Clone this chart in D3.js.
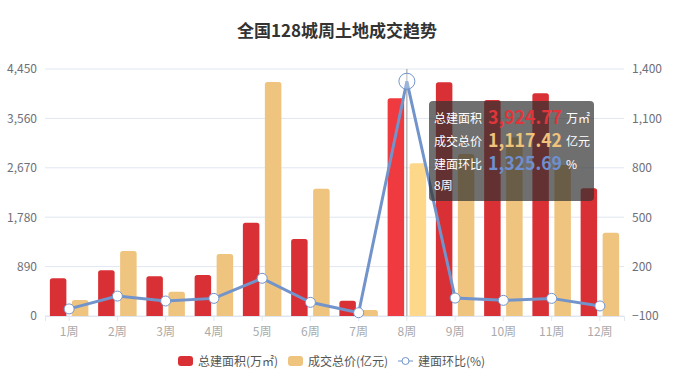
<!DOCTYPE html>
<html lang="zh">
<head>
<meta charset="UTF-8">
<title>全国128城周土地成交趋势</title>
<script src="https://cdn.jsdelivr.net/npm/d3@7/dist/d3.min.js"></script>
<style>
  body { margin: 0; background: #fff; }
  text { font-family: "Noto Sans CJK SC", "Noto Sans", sans-serif; }
</style>
</head>
<body>
<svg width="689" height="382"></svg>
<script>
// chart data
const weeks = ["1周","2周","3周","4周","5周","6周","7周","8周","9周","10周","11周","12周"];
const area = [679, 823, 715, 739, 1681, 1387, 276, 3924.77, 4211, 3892, 4012, 2300];   // 总建面积(万㎡)
const price = [288, 1171, 438, 1117, 4216, 2294, 108, 2750, 2920, 3220, 2720, 1501];   // 成交总价(亿元)
const ratio = [-57, 21, -9, 7, 129, -17, -80, 1325.69, 9, -5, 7, -39];                // 建面环比(%)
const leftTicks = [0, 890, 1780, 2670, 3560, 4450];
const rightTicks = [-100, 200, 500, 800, 1100, 1400];
const hoverIndex = 7;
const hoverPrice = 1117.42;

const svg = d3.select("svg");
const margin = { top: 69, right: 65, bottom: 66, left: 45 };
const width = 689 - margin.left - margin.right,
      height = 382 - margin.top - margin.bottom;

const red = "#d93035", redHi = "#ef3a40";
const yel = "#efc47e", yelHi = "#fdd88b";
const blue = "#7294cb";

const x = d3.scaleBand().domain(weeks).range([0, width]);
const yL = d3.scaleLinear().domain([0, 4450]).range([height, 0]);
const yR = d3.scaleLinear().domain([-100, 1400]).range([height, 0]);

const g = svg.append("g").attr("transform", `translate(${margin.left},${margin.top})`);

// title
svg.append("text")
  .attr("x", 337).attr("y", 37)
  .attr("text-anchor", "middle")
  .style("font-size", "17px").style("font-weight", "bold")
  .attr("fill", "#333")
  .text("全国128城周土地成交趋势");

// grid lines
g.selectAll(".grid").data(leftTicks).enter().append("line")
  .attr("x1", 0).attr("x2", width)
  .attr("y1", d => yL(d)).attr("y2", d => yL(d))
  .attr("stroke", "#e0e6f1");

// left axis
const axL = g.append("g").call(d3.axisLeft(yL).tickValues(leftTicks).tickSize(0).tickPadding(8).tickFormat(d3.format(",")));
axL.select(".domain").remove();
axL.selectAll("text").attr("fill", "#6e7079").style("font-size", "12px");

// right axis
const axR = g.append("g").attr("transform", `translate(${width},0)`)
  .call(d3.axisRight(yR).tickValues(rightTicks).tickSize(0).tickPadding(8).tickFormat(d3.format(",")));
axR.select(".domain").remove();
axR.selectAll("text").attr("fill", "#6e7079").style("font-size", "12px");

// x axis
const axX = g.append("g").attr("transform", `translate(0,${height})`)
  .call(d3.axisBottom(x).tickSize(5).tickPadding(6));
axX.select(".domain").attr("stroke", "#e0e6f1");
axX.selectAll("line").attr("stroke", "#e0e6f1");
axX.selectAll("text").attr("fill", "#aaa").style("font-size", "12px");

// bars
const bw = 16.5, off = 11;
function barPath(cx, y0, y1, r) {
  const xl = cx - bw / 2, xr = cx + bw / 2;
  r = Math.min(r, (y0 - y1));
  return `M${xl},${y0}V${y1 + r}Q${xl},${y1} ${xl + r},${y1}H${xr - r}Q${xr},${y1} ${xr},${y1 + r}V${y0}Z`;
}
g.selectAll(".barA").data(area).enter().append("path")
  .attr("d", (d, i) => barPath(x(weeks[i]) + x.bandwidth() / 2 - off, yL(0), yL(d), 2.5))
  .attr("fill", (d, i) => i === hoverIndex ? redHi : red);
g.selectAll(".barP").data(price).enter().append("path")
  .attr("d", (d, i) => barPath(x(weeks[i]) + x.bandwidth() / 2 + off, yL(0), yL(d), 2.5))
  .attr("fill", (d, i) => i === hoverIndex ? yelHi : yel);

// axis pointer
const hx = x(weeks[hoverIndex]) + x.bandwidth() / 2;
g.append("line").attr("x1", hx).attr("x2", hx).attr("y1", 0).attr("y2", height)
  .attr("stroke", "#999").attr("stroke-width", 1);

// line
const line = d3.line().x((d, i) => x(weeks[i]) + x.bandwidth() / 2).y(d => yR(d));
g.append("path").datum(ratio).attr("d", line)
  .attr("fill", "none").attr("stroke", blue).attr("stroke-width", 3);
g.selectAll(".pt").data(ratio).enter().append("circle")
  .attr("cx", (d, i) => x(weeks[i]) + x.bandwidth() / 2)
  .attr("cy", d => yR(d))
  .attr("r", (d, i) => i === hoverIndex ? 8 : 5)
  .attr("fill", (d, i) => i === hoverIndex ? "rgba(255,255,255,0.3)" : "#fff")
  .attr("stroke", blue).attr("stroke-width", 1);

// tooltip
const tip = svg.append("g").attr("transform", "translate(429,101)");
tip.append("rect").attr("width", 165).attr("height", 100).attr("rx", 4)
  .attr("fill", "rgba(50,50,50,0.7)");
const rows = [
  { label: "总建面积", val: d3.format(",.2f")(area[hoverIndex]), unit: "万㎡", color: "#e0353b" },
  { label: "成交总价", val: d3.format(",.2f")(hoverPrice), unit: "亿元", color: "#f0c27b" },
  { label: "建面环比", val: d3.format(",.2f")(ratio[hoverIndex]), unit: "%", color: "#6f8fd0" }
];
rows.forEach((r, i) => {
  const ty = 22 + i * 23;
  tip.append("text").attr("x", 5).attr("y", ty).attr("fill", "#fff").style("font-size", "12px")
    .attr("textLength", 48).attr("lengthAdjust", "spacingAndGlyphs").text(r.label);
  tip.append("text").attr("x", 59).attr("y", ty + 1).attr("fill", r.color)
    .attr("textLength", 74).attr("lengthAdjust", "spacingAndGlyphs")
    .style("font-size", "18px").style("font-weight", "bold").text(r.val);
  tip.append("text").attr("x", 137).attr("y", ty).attr("fill", "#fff").style("font-size", "12px").text(r.unit);
});
tip.append("text").attr("x", 5).attr("y", 89).attr("fill", "#fff").style("font-size", "12px").text(weeks[hoverIndex]);

// legend
const lg = svg.append("g").attr("transform", "translate(0,361)");
const legendItems = [
  { name: "总建面积(万㎡)", type: "rect", color: red, x: 178 },
  { name: "成交总价(亿元)", type: "rect", color: yel, x: 288 },
  { name: "建面环比(%)", type: "line", color: blue, x: 398 }
];
legendItems.forEach(it => {
  if (it.type === "rect") {
    lg.append("rect").attr("x", it.x).attr("y", -5).attr("width", 15).attr("height", 10).attr("rx", 3).attr("fill", it.color);
  } else {
    lg.append("line").attr("x1", it.x).attr("x2", it.x + 15).attr("y1", 0).attr("y2", 0).attr("stroke", it.color).attr("stroke-width", 1);
    lg.append("circle").attr("cx", it.x + 7.5).attr("cy", 0).attr("r", 3.5).attr("fill", "#fff").attr("stroke", it.color);
  }
  lg.append("text").attr("x", it.x + 20).attr("y", 4.5).attr("fill", "#555").style("font-size", "12px").text(it.name);
});
</script>
</body>
</html>
